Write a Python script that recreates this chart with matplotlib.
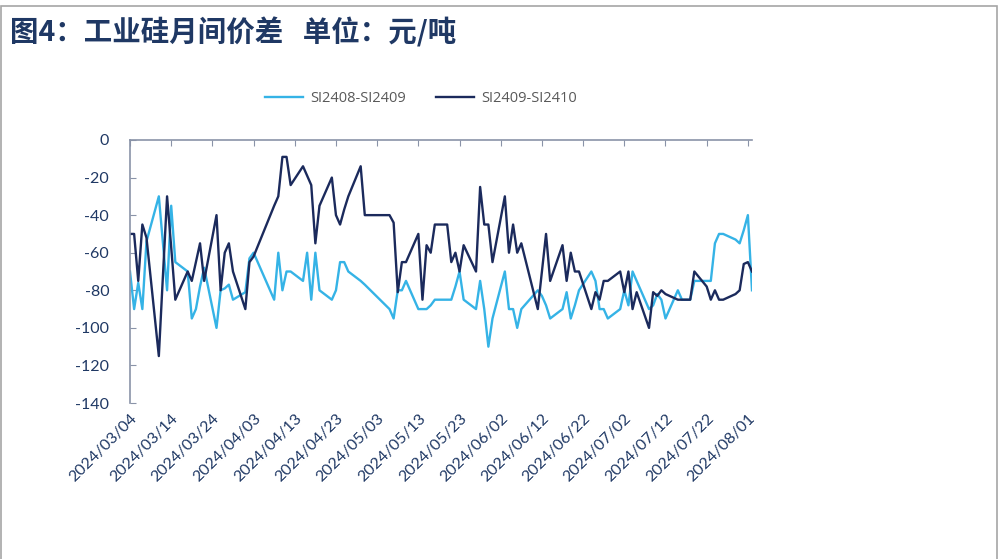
import matplotlib
matplotlib.use("Agg")
import matplotlib.pyplot as plt
from matplotlib.patches import Rectangle
from matplotlib.lines import Line2D
import pandas as pd

plt.rcParams["axes.unicode_minus"] = False

# trading days 2024/03/04 - 2024/08/02 (exchange holidays removed)
holidays = ["2024-04-04", "2024-04-05", "2024-05-01", "2024-05-02", "2024-05-03", "2024-06-10"]
dates = pd.bdate_range("2024-03-04", "2024-08-02").drop(pd.to_datetime(holidays))

# SI2408-SI2409, yuan/ton
spread_0809 = [
    -70, -90, -76, -90, -54,
    -30, -55, -80, -35, -65,
    -70, -95, -90, -78, -68,
    -100, -80, -79, -77, -85,
    -81, -63, -60,
    -85, -60, -80, -70, -70,
    -75, -60, -85, -60, -80,
    -85, -80, -65, -65, -70,
    -75, -77,
    -90, -95, -80, -80, -75,
    -90, -90, -90, -88, -85,
    -85, -85, -78, -70, -85,
    -90, -75, -90, -110, -95,
    -70, -90, -90, -100, -90,
    -80, -83, -88, -95,
    -90, -81, -95, -88, -80,
    -70, -75, -90, -90, -95,
    -90, -80, -88, -70, -75,
    -90, -88, -82, -85, -95,
    -80, -85, -85, -85, -75,
    -75, -75, -55, -50, -50,
    -53, -55, -48,
    -40, -80,
]

# SI2409-SI2410, yuan/ton
spread_0910 = [
    -50, -50, -75, -45, -52,
    -115, -72, -30, -57, -85,
    -70, -75, -65, -55, -75,
    -40, -80, -60, -55, -70,
    -90, -65, -62,
    -35, -30, -9, -9, -24,
    -14, -19, -24, -55, -35,
    -20, -40, -45, -37, -30,
    -14, -40,
    -40, -44, -81, -65, -65,
    -50, -85, -56, -60, -45,
    -45, -65, -60, -70, -56,
    -70, -25, -45, -45, -65,
    -30, -60, -45, -60, -55,
    -90, -70, -50, -75,
    -56, -75, -60, -70, -70,
    -90, -81, -85, -75, -75,
    -70, -81, -70, -90, -81,
    -100, -81, -83, -80, -82,
    -85, -85, -85, -85, -70,
    -78, -85, -80, -85, -85,
    -82, -80, -66,
    -65, -70,
]

labels = ["SI2408-SI2409", "SI2409-SI2410"]
light = "#35B3E6"
dark = "#1B2A5C"
navy = "#1F3864"

fig = plt.figure(figsize=(10, 5.59), dpi=100)
ax = fig.add_axes([0.13, 0.279, 0.622, 0.4706])

ax.plot(dates, spread_0809, color=light, lw=1.7)
ax.plot(dates, spread_0910, color=dark, lw=1.7)

ax.set_ylim(-140, 0)
ax.set_yticks(range(-140, 1, 20))
ax.set_xlim(pd.Timestamp("2024-03-04"), pd.Timestamp("2024-08-02"))
ticks = pd.date_range("2024-03-04", "2024-08-01", freq="10D")
ax.set_xticks(ticks)
ax.set_xticklabels([t.strftime("%Y/%m/%d") for t in ticks])

for s in ["right", "bottom"]:
    ax.spines[s].set_visible(False)
for s in ["left", "top"]:
    ax.spines[s].set_color("#8A93A8")
    ax.spines[s].set_linewidth(1.2)

ax.tick_params(axis="x", top=True, bottom=False, labeltop=False, labelbottom=True,
               direction="in", length=4, color="#8A93A8", pad=6)
ax.tick_params(axis="y", direction="in", length=4, color="#8A93A8", pad=15)
for lab in ax.get_xticklabels():
    lab.set_rotation(45)
    lab.set_ha("right")
    lab.set_va("top")
    lab.set_rotation_mode("anchor")
    lab.set_color(navy)
    lab.set_fontsize(11.5)
    lab.set_family("Lato")
for lab in ax.get_yticklabels():
    lab.set_color(navy)
    lab.set_fontsize(11.5)
    lab.set_family("Lato")

handles = [Line2D([], [], color=light, lw=1.7), Line2D([], [], color=dark, lw=1.7)]
leg = fig.legend(handles, labels, loc="center", bbox_to_anchor=(0.421, 0.823), ncol=2,
                 frameon=False, handlelength=2.6, columnspacing=2.0, handletextpad=0.5,
                 prop={"family": "Open Sans", "size": 10.5})
for t in leg.get_texts():
    t.set_color("#595959")

fig.text(0.01, 0.942, "图4：工业硅月间价差   单位：元/吨", fontsize=20.5, fontweight="bold",
         color=navy, va="center", ha="left", family=["Noto Sans CJK SC", "DejaVu Sans"])

fig.add_artist(Rectangle((0.001, -0.1), 0.996, 1.09, transform=fig.transFigure,
                         fill=False, ec="#A6A6A6", lw=1.2))

fig.savefig("out.png", dpi=100)
